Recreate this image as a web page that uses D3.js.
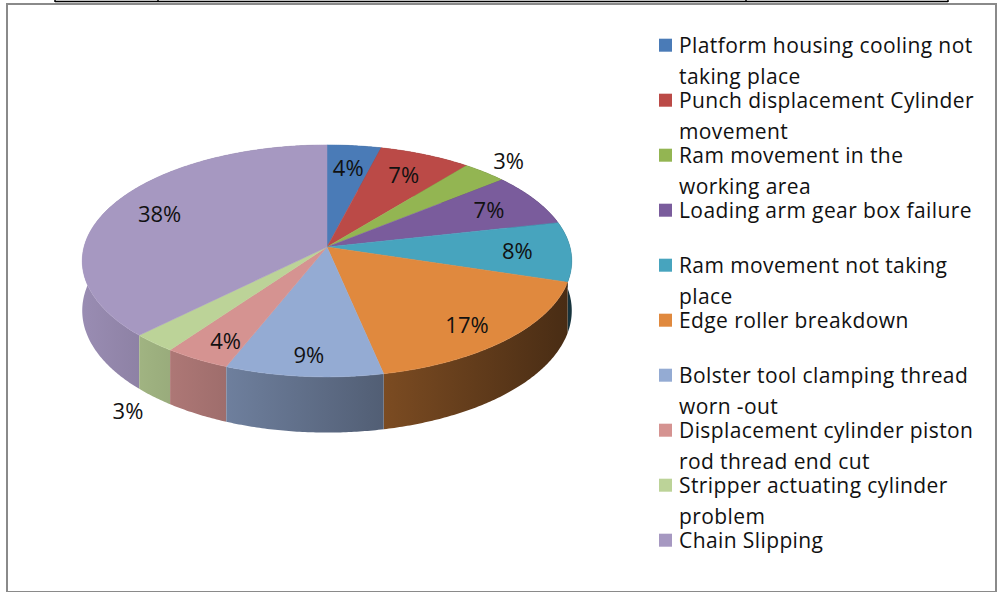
<!DOCTYPE html>
<html>
<head>
<meta charset="utf-8">
<script src="https://cdn.jsdelivr.net/npm/d3@7"></script>
<style>
  body { margin: 0; background: #fff; }
  svg { display: block; font-family: "Open Sans", sans-serif; }
</style>
</head>
<body>
<svg id="chart" width="1000" height="592"></svg>
<script>
// breakdown causes, percent share (labels, fractions)
var categories = [
  "Platform housing cooling not\ntaking place",
  "Punch displacement Cylinder\nmovement",
  "Ram movement in the\nworking area",
  "Loading arm gear box failure",
  "Ram movement not taking\nplace",
  "Edge roller breakdown",
  "Bolster tool clamping thread\nworn -out",
  "Displacement cylinder piston\nrod thread end cut",
  "Stripper actuating cylinder\nproblem",
  "Chain Slipping"
];
var values = [4.0, 6.8, 3.3, 7.4, 8.3, 16.9, 9.3, 3.9, 2.6, 37.5];
var colors = ["#4a7bb7", "#bb4a47", "#93b552", "#7a5c9c", "#47a4be",
              "#e0893e", "#94abd3", "#d59391", "#bcd398", "#a698c1"];

var svg = d3.select("#chart");
var defs = svg.append("defs");

// frame of the pasted chart + the table line above it
svg.append("rect").attr("x", 7).attr("y", 4).attr("width", 989).attr("height", 588)
  .attr("fill", "none").attr("stroke", "#8a8a8a").attr("stroke-width", 2);
svg.append("line").attr("x1", 55).attr("x2", 948).attr("y1", 1.5).attr("y2", 1.5)
  .attr("stroke", "#000").attr("stroke-width", 1.5);
[55, 158, 746, 948].forEach(function (x) {
  svg.append("line").attr("x1", x).attr("x2", x).attr("y1", -2).attr("y2", 2)
    .attr("stroke", "#000").attr("stroke-width", 1.5);
});

// 3d pie geometry (perspective tilt)
var cx = 327, cy = 247, rx = 243, ry = 114.3, k = 0.12, depth = 49;

function proj(a, r, h) {
  var u = r * Math.sin(a), v = -r * Math.cos(a);
  var d = 1 - k * v;
  return [cx + rx * u / d, cy + ry * v / d + h / d];
}

var pie = d3.pie().sort(null).value(function (d) { return d; });
var arcs = pie(values);
var line = d3.line();

function rim(a0, a1, h) {
  var n = Math.max(2, Math.ceil((a1 - a0) / 0.01));
  return d3.range(n + 1).map(function (i) { return proj(a0 + (a1 - a0) * i / n, 1, h); });
}

// side shading: lighter on the left, darker on the right
var shade = d3.scaleLinear().domain([cx - rx, cx + rx]).range([0.92, 0.32]);

arcs.forEach(function (s, i) {
  var c = d3.rgb(colors[i]);
  var g = defs.append("linearGradient").attr("id", "side" + i)
    .attr("gradientUnits", "userSpaceOnUse")
    .attr("x1", cx - rx).attr("x2", cx + rx).attr("y1", 0).attr("y2", 0);
  [cx - rx, cx, cx + rx].forEach(function (x, j) {
    var f = shade(x);
    g.append("stop").attr("offset", j / 2)
      .attr("stop-color", d3.rgb(c.r * f, c.g * f, c.b * f).formatHex());
  });
});

// side walls, painted back to front
var walls = arcs.map(function (s, i) {
  return { s: s, i: i, v: -Math.cos((s.startAngle + s.endAngle) / 2) };
}).sort(function (p, q) { return p.v - q.v; });

svg.append("g").selectAll("path").data(walls).enter().append("path")
  .attr("d", function (d) {
    var top = rim(d.s.startAngle, d.s.endAngle, 0);
    var bot = rim(d.s.startAngle, d.s.endAngle, depth).reverse();
    return line(top.concat(bot)) + "Z";
  })
  .attr("fill", function (d) { return "url(#side" + d.i + ")"; });

// top faces
svg.append("g").selectAll("path").data(arcs).enter().append("path")
  .attr("d", function (d) {
    return line([[cx, cy]].concat(rim(d.startAngle, d.endAngle, 0))) + "Z";
  })
  .attr("fill", function (d, i) { return colors[i]; })
  .attr("stroke", function (d, i) { return colors[i]; })
  .attr("stroke-width", 0.5);

// data labels
svg.append("g").selectAll("text").data(arcs).enter().append("text")
  .each(function (d) {
    var m = (d.startAngle + d.endAngle) / 2;
    var e = proj(m, 1, 0), v = -Math.cos(m);
    var x, y;
    if (d.value < 3.5) {
      x = cx + 1.15 * (e[0] - cx);
      y = cy + 1.15 * (e[1] - cy) + (v > 0 ? depth / (1 - k * v) : 0);
    } else {
      x = cx + 0.78 * (e[0] - cx);
      y = cy + 0.78 * (e[1] - cy) + 0.15 * Math.max(0, v) * depth;
    }
    d3.select(this).attr("x", x).attr("y", y);
  })
  .attr("dy", "0.35em")
  .attr("text-anchor", "middle")
  .attr("font-size", 22)
  .attr("fill", "#111")
  .text(function (d) { return Math.round(d.value) + "%"; });

// legend
var legend = svg.append("g");
var rowY = d3.scaleLinear().domain([0, 1]).range([52.7, 107.7]);
categories.forEach(function (name, i) {
  var y = rowY(i);
  legend.append("rect").attr("x", 659).attr("y", y - 14).attr("width", 13).attr("height", 13)
    .attr("fill", colors[i]);
  var t = legend.append("text").attr("x", 679).attr("y", y)
    .attr("font-size", 21).attr("letter-spacing", 0.4).attr("fill", "#111");
  name.split("\n").forEach(function (part, j) {
    t.append("tspan").attr("x", 679).attr("dy", j === 0 ? 0 : 31).text(part);
  });
});
</script>
</body>
</html>
